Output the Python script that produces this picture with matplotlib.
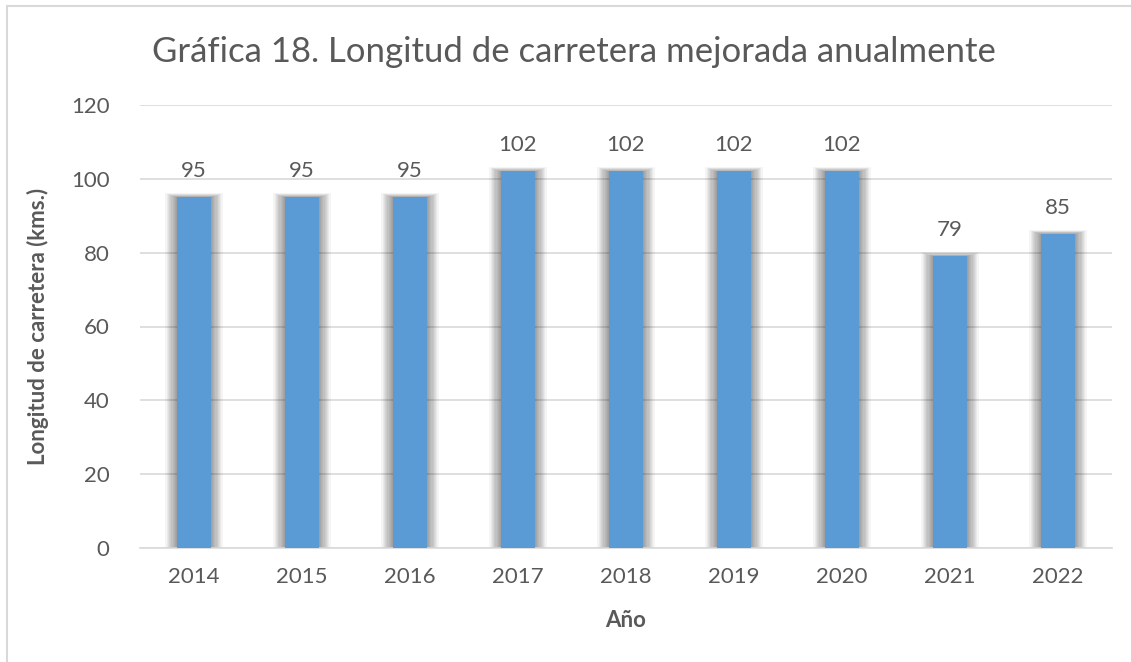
import matplotlib
matplotlib.use("Agg")
import matplotlib.pyplot as plt
from matplotlib.patches import Rectangle
import numpy as np

years = ["2014", "2015", "2016", "2017", "2018", "2019", "2020", "2021", "2022"]
values = [95, 95, 95, 102, 102, 102, 102, 79, 85]
yticks = [0, 20, 40, 60, 80, 100, 120]

title = "Gráfica 18. Longitud de carretera mejorada anualmente"
xlabel = "Año"
ylabel = "Longitud de carretera (kms.)"

plt.rcParams['font.family'] = ['Lato', 'DejaVu Sans']
txt = '#595959'
bar_color = '#5B9BD5'
W, H = 1131, 662
fig = plt.figure(figsize=(W/100, H/100), dpi=100)

# border
fig.patches.append(Rectangle((7/W, -0.1), 1.2, 1 - 6/H + 0.1, transform=fig.transFigure,
                             fill=False, edgecolor='#d9d9d9', linewidth=1.5))

ax = fig.add_axes([140/W, 1-548/H, (1112-140)/W, (548-105)/H])
x = np.arange(len(years))
bw = 0.31

# soft shadows
for i, v in enumerate(values):
    n = 10
    for k in range(n):
        grow = (k + 1) * 0.011
        ax.add_patch(Rectangle((x[i] - bw/2 - grow, -0.4 - k*0.08), bw + 2*grow, v + 0.4 + k*0.2,
                               facecolor='black', alpha=0.045, edgecolor='none', zorder=1.5))

ax.bar(x, values, width=bw, color=bar_color, zorder=3)
for i, v in enumerate(values):
    ax.annotate(str(v), (x[i], v), xytext=(0, 12), textcoords='offset points',
                ha='center', va='bottom', fontsize=16, color=txt, zorder=4)

ax.set_xlim(-0.5, len(years) - 0.5)
ax.set_ylim(0, 120)
ax.set_yticks(yticks)
ax.set_xticks(x)
ax.set_xticklabels(years)
ax.grid(axis='y', color='#d9d9d9', linewidth=1.2, zorder=0)
ax.set_axisbelow(True)
for s in ['top', 'right', 'left']:
    ax.spines[s].set_visible(False)
ax.spines['bottom'].set_color('#d9d9d9')
ax.spines['bottom'].set_linewidth(1.2)
ax.tick_params(axis='both', length=0, labelsize=16, labelcolor=txt)
ax.tick_params(axis='x', pad=14)
ax.tick_params(axis='y', pad=22)

ax.set_xlabel(xlabel, fontsize=16, fontweight='bold', color=txt, labelpad=16)
ax.set_ylabel(ylabel, fontsize=16, fontweight='bold', color=txt, labelpad=16)

fig.text(574/W, 1-52/H, title, ha='center', va='center', fontsize=25, color=txt)

fig.savefig("out.png", dpi=100)
